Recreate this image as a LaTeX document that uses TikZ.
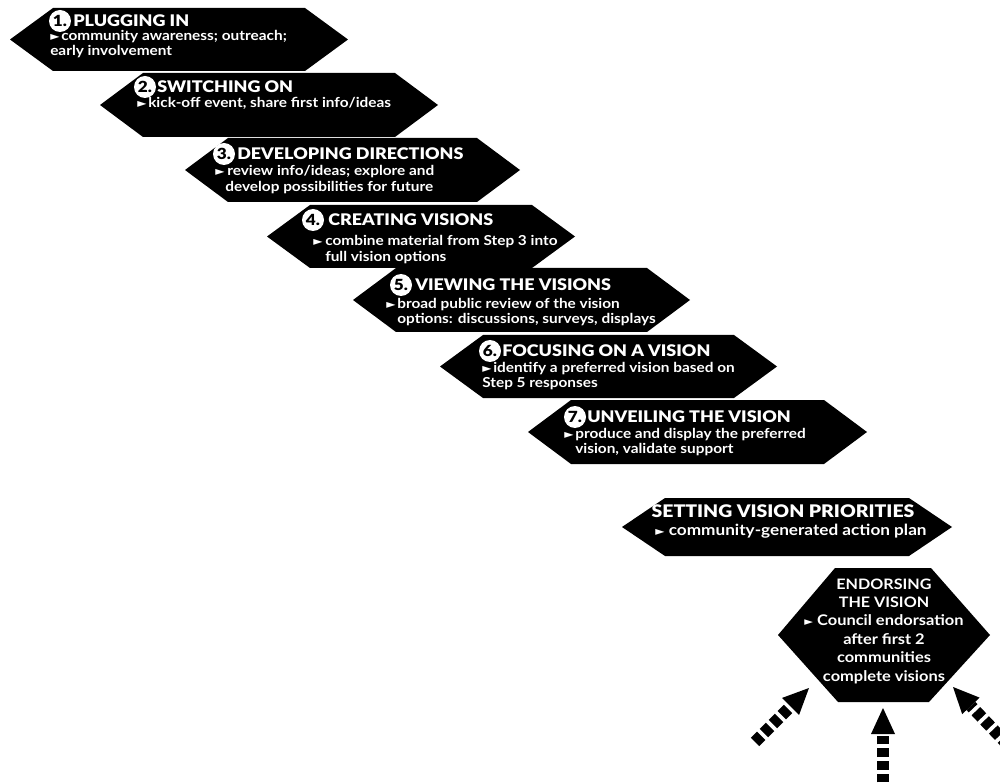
\documentclass[tikz,border=0pt]{standalone}
\usepackage{fontspec}
\setmainfont{Lato}[FakeStretch=1.12]
\newfontfamily\headfont{Lato Black}[FakeStretch=1.12]
\newfontfamily\symfont{DejaVu Sans}
\usetikzlibrary{arrows.meta,calc}
\tikzset{
 banner/.style={fill=black},
 circ/.style={circle, fill=white, inner sep=0pt, minimum size=16.5pt, text=black, font=\headfont\fontsize{11.5}{11.5}\selectfont},
 headtxt/.style={anchor=west, inner sep=0pt, text=white, font=\headfont\fontsize{12}{12}\selectfont, text height=8.6pt, text depth=0pt},
 bodytxt/.style={anchor=west, inner sep=0pt, text=white, font=\bfseries\fontsize{10.3}{10.3}\selectfont, text height=7.4pt, text depth=2.1pt},
 tri/.style={anchor=west, inner sep=0pt, text=white, font=\symfont\fontsize{9}{9}\selectfont},
 shaft/.style={line width=9pt, dash pattern=on 6.5pt off 3pt},
 ahead/.style={fill=black}
}
\newcommand\drawbanner[4]{\fill[banner] (#1,{(#2+#3)/2}) -- ({#1+43},#2) -- ({#4-43},#2) -- (#4,{(#2+#3)/2}) -- ({#4-43},#3) -- ({#1+43},#3) -- cycle;}
\begin{document}
\begin{tikzpicture}[x=0.75pt,y=-0.75pt]
\useasboundingbox (0,0) rectangle (1000,784);
\clip (0,0) rectangle (1000,784);
% Step 1
\drawbanner{10}{8}{71}{348}
\node[circ] (c1) at (60,21) {1.};
\node[headtxt] (h1) at (73,21) {PLUGGING IN};
\node[tri] (t1) at (50,37) {►};
\node[bodytxt] (b1a) at (61,37) {community awareness; outreach;};
\node[bodytxt] (b1b) at (50,52) {early involvement};
% Step 2
\drawbanner{100}{73}{137}{438}
\node[circ] (c2) at (145,87) {2.};
\node[headtxt] (h2) at (157,87) {SWITCHING ON};
\node[tri] (t2) at (137,104) {►};
\node[bodytxt] (b2a) at (148,104) {kick-off event, share first info/ideas};
% Step 3
\drawbanner{185}{138}{202}{520}
\node[circ] (c3) at (224,154) {3.};
\node[headtxt] (h3) at (237,154) {DEVELOPING DIRECTIONS};
\node[tri] (t3) at (215,172) {►};
\node[bodytxt] (b3a) at (227,172) {review info/ideas; explore and};
\node[bodytxt] (b3b) at (225,188) {develop possibilities for future};
% Step 4
\drawbanner{267}{205}{268}{575}
\node[circ] (c4) at (313,220) {4.};
\node[headtxt] (h4) at (328,220) {CREATING VISIONS};
\node[tri] (t4) at (313,242) {►};
\node[bodytxt] (b4a) at (325,242) {combine material from Step 3 into};
\node[bodytxt] (b4b) at (325,258) {full vision options};
% Step 5
\drawbanner{353}{268}{332}{690}
\node[circ] (c5) at (401,285) {5.};
\node[headtxt] (h5) at (415,285) {VIEWING THE VISIONS};
\node[tri] (t5) at (386,305) {►};
\node[bodytxt] (b5a) at (397,305) {broad public review of the vision};
\node[bodytxt] (b5b) at (397,320) {options: discussions, surveys, displays};
% Step 6
\drawbanner{440}{335}{398}{777}
\node[circ] (c6) at (490,351) {6.};
\node[headtxt] (h6) at (502,351) {FOCUSING ON A VISION};
\node[tri] (t6) at (482,369) {►};
\node[bodytxt] (b6a) at (493,369) {identify a preferred vision based on};
\node[bodytxt] (b6b) at (482,384) {Step 5 responses};
% Step 7
\drawbanner{528}{400}{464}{867}
\node[circ] (c7) at (575,417) {7.};
\node[headtxt] (h7) at (587,417) {UNVEILING THE VISION};
\node[tri] (t7) at (564,435) {►};
\node[bodytxt] (b7a) at (575,435) {produce and display the preferred};
\node[bodytxt] (b7b) at (575,450) {vision, validate support};
% Setting priorities
\drawbanner{622}{498}{556}{952}
\node[headtxt, anchor=center, font=\headfont\fontsize{13}{13}\selectfont] (hs) at (783,512) {SETTING VISION PRIORITIES};
\node[bodytxt, anchor=center, font=\bfseries\fontsize{11.5}{11.5}\selectfont] (bs) at (791,532) {{\symfont\fontsize{9}{9}\selectfont ►} community-generated action plan};
% Endorsing
\fill[banner] (778,635) -- (835,568) -- (931,568) -- (990,635) -- (929,702) -- (838,702) -- cycle;
\node[text=white, align=center, inner sep=0pt, font=\bfseries\fontsize{11}{13.8}\selectfont] (e) at (884,631)
 {{\headfont\fontsize{10.8}{13.8}\selectfont ENDORSING}\\{\headfont\fontsize{10.8}{13.8}\selectfont THE VISION}\\{\symfont\fontsize{8.5}{8.5}\selectfont ►} Council endorsation\\after first 2\\communities\\complete visions};
% Arrows
\coordinate (laTail) at (755,742); \coordinate (laTip) at (809,688);
\coordinate (maTail) at (883,795); \coordinate (maTip) at (883,708);
\coordinate (raTail) at (1008,745); \coordinate (raTip) at (953,687);
\foreach \a in {la,ma,ra}{
 \coordinate (\a B) at ($(\a Tip)!19.5pt!(\a Tail)$);
 \draw[shaft] (\a Tail) -- (\a B);
 \fill[ahead] (\a Tip) -- ($(\a B)!9pt!90:(\a Tip)$) -- ($(\a B)!9pt!-90:(\a Tip)$) -- cycle;
}
\end{tikzpicture}
\end{document}
